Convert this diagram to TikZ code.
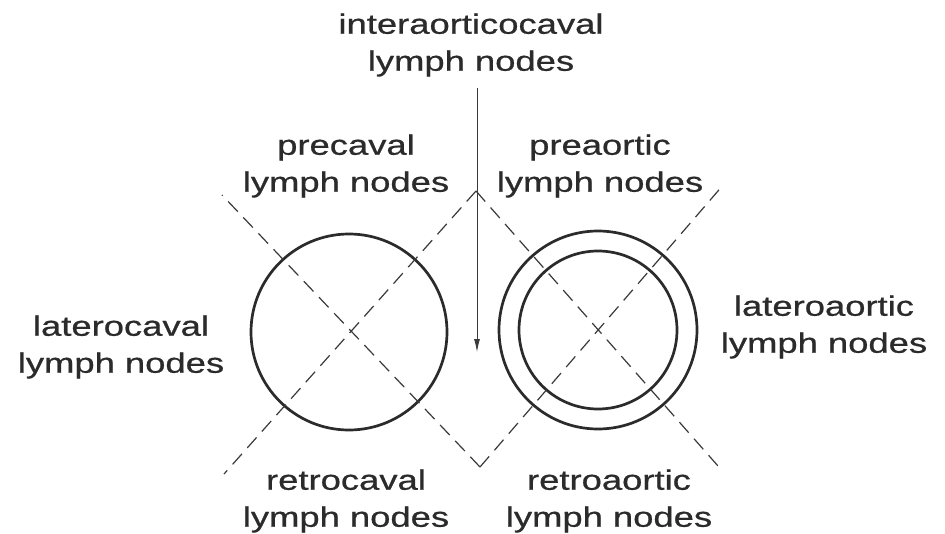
\documentclass[tikz,border=0pt]{standalone}
\usepackage{fontspec}
\setmainfont{Liberation Sans}
\newfontfamily\lblfont{Liberation Sans}[FakeBold=0.6]
\usetikzlibrary{arrows.meta}
\definecolor{ink}{HTML}{2B2B2B}
\definecolor{inkline}{HTML}{3A3A3A}
\begin{document}
\begin{tikzpicture}[x=1pt,y=-1pt,
  lbl/.style={align=center,inner sep=0pt,text=ink,xscale=1.3,
    font=\lblfont\fontsize{28}{37}\selectfont},
  vessel/.style={draw=ink,line width=2.7pt},
  dashline/.style={draw=inkline,line width=1.2pt,dash pattern=on 14pt off 8pt},
  arrowline/.style={draw=inkline,line width=0.9pt,-{Latex[length=13pt,width=6pt]}}]
\useasboundingbox[fill=white] (0,0) rectangle (945,533);
% centres and line ends
\coordinate (L) at (349,332);
\coordinate (R) at (598,330);
\coordinate (T) at (476,191);
\coordinate (B) at (480,467);
\coordinate (LT) at (222,195);
\coordinate (LB) at (224,474);
\coordinate (RT) at (724,184);
\coordinate (RB) at (718,466);
\coordinate (As) at (477,88);
\coordinate (Ae) at (477,352);
% vessels
\draw[vessel] (L) circle[radius=98];
\draw[vessel] (R) circle[radius=99];
\draw[vessel] (R) circle[radius=79];
% dashed division lines
\draw[dashline] (T) -- (LB);
\draw[dashline] (B) -- (LT);
\draw[dashline] (T) -- (RB);
\draw[dashline] (B) -- (RT);
% labels
\node[lbl] (inter) at (471,45) {interaorticocaval\\lymph nodes};
\node[lbl] (precaval) at (346,166) {precaval\\lymph nodes};
\node[lbl] (preaortic) at (600,166) {preaortic\\lymph nodes};
\node[lbl] (laterocaval) at (121,347) {laterocaval\\lymph nodes};
\node[lbl] (lateroaortic) at (824,327) {lateroaortic\\lymph nodes};
\node[lbl] (retrocaval) at (346,501) {retrocaval\\lymph nodes};
\node[lbl] (retroaortic) at (609,501) {retroaortic\\lymph nodes};
% arrow
\draw[arrowline] (As) -- (Ae);
\end{tikzpicture}
\end{document}
